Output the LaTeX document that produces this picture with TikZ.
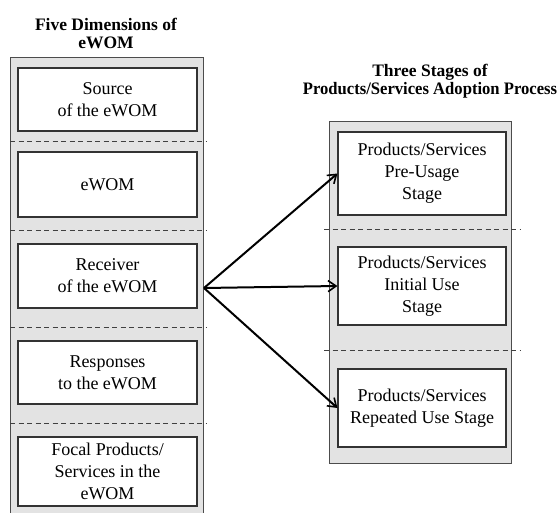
\documentclass[tikz,border=0pt]{standalone}
\usepackage{fontspec}
\usepackage{graphicx}
\setmainfont{Liberation Serif}
\usetikzlibrary{arrows.meta}
\begin{document}
\begin{tikzpicture}[x=1pt,y=-1pt,
  panel/.style={draw=black!70, fill=black!11, line width=0.8pt, inner sep=0pt},
  itembox/.style={draw=black!80, fill=white, line width=1.1pt, align=center,
    font=\fontsize{18}{22}\selectfont, inner sep=0pt},
  sep/.style={draw=black!75, line width=0.8pt, dash pattern=on 5pt off 3.5pt},
  title/.style={font=\bfseries\fontsize{17.5}{18}\selectfont, align=center, inner sep=0pt},
  link/.style={-{Straight Barb[length=8pt,width=11pt,line width=1.6pt]}, line width=2pt}]
\clip (0,0) rectangle (559,513);
\fill[white] (0,0) rectangle (559,513);

% titles
\node[title] (tl) at (106,33) {Five Dimensions of\\eWOM};
\node[title] (tr) at (430,81) {Three Stages of\\\scalebox{0.95}[1]{Products/Services Adoption Process}};

% left panel
\node[panel, minimum width=193, minimum height=473] (lp) at (106.5,293.5) {};
\draw[sep] (10,141) -- (207,141);
\draw[sep] (10,230) -- (207,230);
\draw[sep] (10,327) -- (207,327);
\draw[sep] (10,423) -- (207,423);
\node[itembox, minimum width=179, minimum height=63] (d1) at (107.5,99.5) {Source\\of the eWOM};
\node[itembox, minimum width=179, minimum height=65] (d2) at (107.5,184.5) {eWOM};
\node[itembox, minimum width=179, minimum height=64] (d3) at (107.5,276) {Receiver\\of the eWOM};
\node[itembox, minimum width=179, minimum height=63] (d4) at (107.5,372.5) {Responses\\to the eWOM};
\node[itembox, minimum width=179, minimum height=69] (d5) at (107.5,471.5) {Focal Products/\\Services in the\\eWOM};

% right panel
\node[panel, minimum width=182, minimum height=342] (rp) at (420,292) {};
\draw[sep] (324,229) -- (521,229);
\draw[sep] (324,350) -- (521,350);
\node[itembox, minimum width=168, minimum height=83] (s1) at (422,173.5) {Products/Services\\Pre-Usage\\Stage};
\node[itembox, minimum width=168, minimum height=78] (s2) at (422,286) {Products/Services\\Initial Use\\Stage};
\node[itembox, minimum width=168, minimum height=78] (s3) at (422,408) {Products/Services\\Repeated Use Stage};

% connectors
\coordinate (src) at (204,288);
\draw[link] (src) -- (s1.west);
\draw[link] (src) -- (s2.west);
\draw[link] (src) -- (s3.west);
\end{tikzpicture}
\end{document}
